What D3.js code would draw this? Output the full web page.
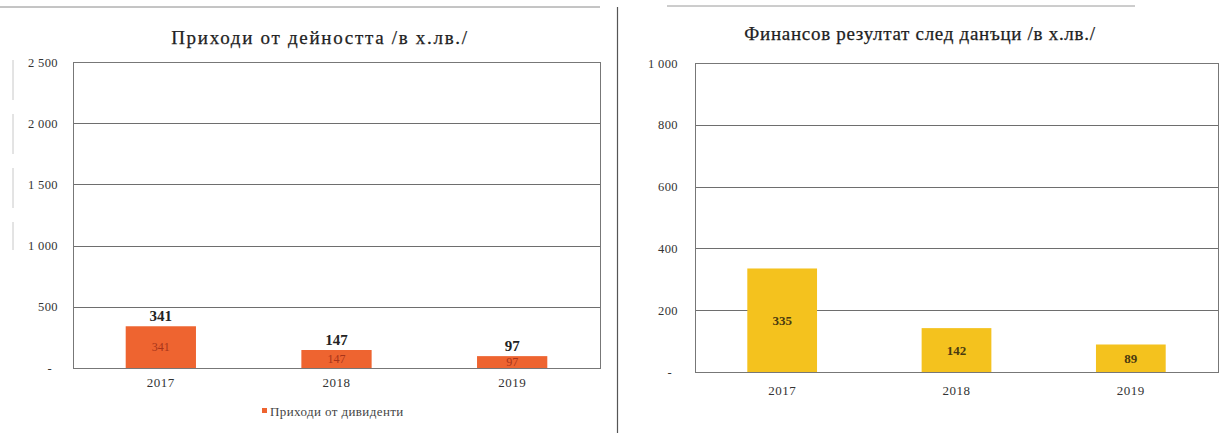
<!DOCTYPE html>
<html>
<head>
<meta charset="utf-8">
<script src="https://cdn.jsdelivr.net/npm/d3@7/dist/d3.min.js"></script>
<style>
  html, body { margin: 0; padding: 0; background: #fff; }
  svg { display: block; }
  svg text { font-family: "Liberation Serif", "Times New Roman", serif; }
</style>
</head>
<body>
<svg id="chart" width="1226" height="433"></svg>
<script>
// Shared categories
const years = ["2017", "2018", "2019"];

// Left chart: revenue from activity (thousand BGN)
const revenueTitle = "Приходи от дейността /в х.лв./";
const revenueSeriesName = "Приходи от дивиденти";
const revenueValues = [341, 147, 97];
const revenueTicks = [0, 500, 1000, 1500, 2000, 2500];

// Right chart: financial result after tax (thousand BGN)
const profitTitle = "Финансов резултат след данъци /в х.лв./";
const profitValues = [335, 142, 89];
const profitTicks = [0, 200, 400, 600, 800, 1000];

const svg = d3.select("#chart");

// thousands separated by a space, zero shown as a dash
const fmt = v => v === 0 ? "-" : d3.format(",")(v).replace(/,/g, " ");

// Page decorations: rule lines of the surrounding document
svg.append("line").attr("x1", 0).attr("x2", 600).attr("y1", 7).attr("y2", 7)
  .attr("stroke", "#8a8a8a").attr("stroke-width", 1);
svg.append("line").attr("x1", 667).attr("x2", 1135).attr("y1", 6).attr("y2", 6)
  .attr("stroke", "#9a9a9a").attr("stroke-width", 1);
svg.append("line").attr("x1", 617.5).attr("x2", 617.5).attr("y1", 7).attr("y2", 433)
  .attr("stroke", "#555").attr("stroke-width", 1.2);
svg.append("line").attr("x1", 13).attr("x2", 13).attr("y1", 60).attr("y2", 250)
  .attr("stroke", "#c8c8c8").attr("stroke-width", 1).attr("stroke-dasharray", "40,14");

function drawChart(cfg) {
  const g = svg.append("g");
  const x = d3.scaleBand().domain(years)
    .range([cfg.left, cfg.right]).paddingInner(0.6).paddingOuter(0.3);
  const y = d3.scaleLinear().domain([0, cfg.max]).range([cfg.bottom, cfg.top]);

  // gridlines
  g.append("g").selectAll("line").data(cfg.ticks).join("line")
    .attr("x1", cfg.left).attr("x2", cfg.right)
    .attr("y1", d => Math.round(y(d)) + 0.5).attr("y2", d => Math.round(y(d)) + 0.5)
    .attr("stroke", "#6e6e6e").attr("stroke-width", 1);

  // plot frame
  g.append("rect")
    .attr("x", cfg.left + 0.5).attr("y", Math.round(y(cfg.max)) + 0.5)
    .attr("width", cfg.right - cfg.left)
    .attr("height", Math.round(y(0)) - Math.round(y(cfg.max)))
    .attr("fill", "none").attr("stroke", "#777").attr("stroke-width", 1);

  // y axis labels
  const yAxis = d3.axisLeft(y).tickValues(cfg.ticks).tickFormat(fmt).tickSize(0).tickPadding(0);
  const ya = g.append("g").attr("transform", `translate(${cfg.labelX},0)`).call(yAxis);
  ya.attr("font-family", null).attr("font-size", null);
  ya.select(".domain").remove();
  ya.selectAll("text")
    .attr("font-size", 12.5).attr("letter-spacing", 0.4).attr("fill", "#333")
    .attr("dx", d => d === 0 ? -6 : 0);

  // x axis labels
  const xAxis = d3.axisBottom(x).tickSize(0).tickPadding(0);
  const xa = g.append("g").attr("transform", `translate(0,${cfg.bottom + cfg.xLabelGap})`).call(xAxis);
  xa.attr("font-family", null).attr("font-size", null);
  xa.select(".domain").remove();
  xa.selectAll("text")
    .attr("font-size", 13).attr("letter-spacing", 0.5).attr("fill", "#333");

  // bars
  g.append("g").selectAll("rect").data(cfg.values).join("rect")
    .attr("x", (d, i) => x(years[i]))
    .attr("y", d => y(d))
    .attr("width", x.bandwidth())
    .attr("height", d => y(0) - y(d))
    .attr("fill", cfg.color);

  // value labels inside bars
  g.append("g").selectAll("text").data(cfg.values).join("text")
    .attr("x", (d, i) => x(years[i]) + x.bandwidth() / 2)
    .attr("y", d => (y(d) + y(0)) / 2)
    .attr("dy", "0.35em")
    .attr("text-anchor", "middle")
    .attr("font-size", cfg.innerSize)
    .attr("font-weight", cfg.innerWeight)
    .attr("fill", cfg.innerColor)
    .text(d => d);

  // value labels above bars
  if (cfg.outerLabels) {
    g.append("g").selectAll("text").data(cfg.values).join("text")
      .attr("x", (d, i) => x(years[i]) + x.bandwidth() / 2)
      .attr("y", d => y(d) - 5)
      .attr("text-anchor", "middle")
      .attr("font-size", 15)
      .attr("font-weight", "bold")
      .attr("fill", "#222")
      .text(d => d);
  }

  // title
  g.append("text")
    .attr("x", cfg.titleX).attr("y", cfg.titleY)
    .attr("text-anchor", "middle")
    .attr("font-size", 19)
    .attr("letter-spacing", cfg.titleSpacing)
    .attr("fill", "#222")
    .attr("stroke", "#222").attr("stroke-width", 0.25)
    .text(cfg.title);

  return { x, y };
}

drawChart({
  left: 73, right: 600, top: 62, bottom: 368,
  max: 2500, ticks: revenueTicks, values: revenueValues,
  color: "#EE6430", labelX: 58, xLabelGap: 10,
  innerSize: 12, innerWeight: "normal", innerColor: "#a8341a",
  outerLabels: true,
  title: revenueTitle, titleX: 320, titleY: 44, titleSpacing: 1.7
});

drawChart({
  left: 695, right: 1218, top: 63, bottom: 372,
  max: 1000, ticks: profitTicks, values: profitValues,
  color: "#F4C21E", labelX: 678, xLabelGap: 14,
  innerSize: 13, innerWeight: "bold", innerColor: "#4a3a10",
  outerLabels: false,
  title: profitTitle, titleX: 920, titleY: 40, titleSpacing: 0.7
});

// legend for the left chart
const legend = svg.append("g").attr("transform", "translate(262,411)");
legend.append("rect").attr("x", 0).attr("y", -3).attr("width", 5).attr("height", 5)
  .attr("fill", "#EE6430");
legend.append("text").attr("x", 8).attr("y", 0).attr("dy", "0.35em")
  .attr("font-size", 13).attr("letter-spacing", 0.4).attr("fill", "#444")
  .text(revenueSeriesName);
</script>
</body>
</html>
